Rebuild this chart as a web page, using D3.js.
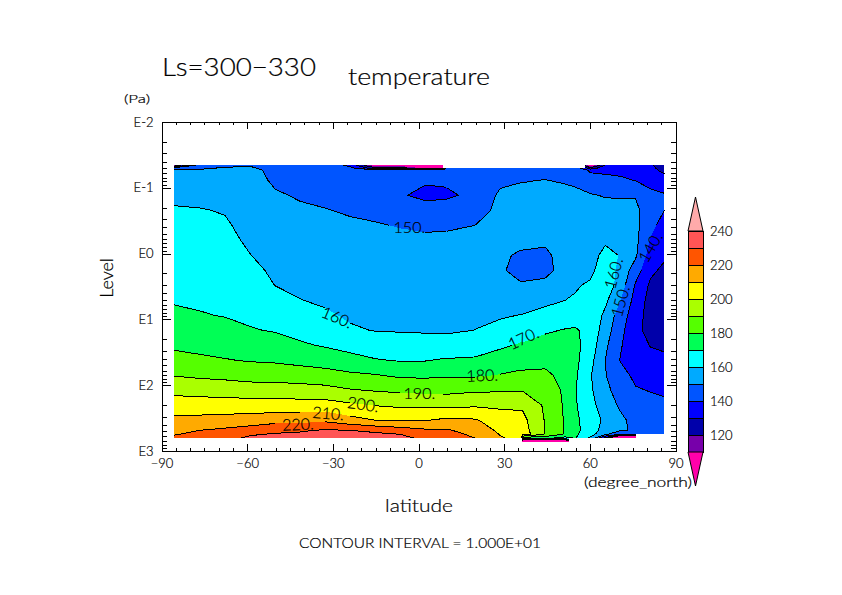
<!DOCTYPE html>
<html>
<head>
<meta charset="utf-8">
<script src="https://cdn.jsdelivr.net/npm/d3@7"></script>
<style>
body { margin: 0; background: #fff; }
text { font-family: "Lato", "DejaVu Sans", sans-serif; font-weight: 300; fill: #000; stroke: #000; stroke-width: 0.2px; }
</style>
</head>
<body>
<script>
// grid: latitude (degrees north), level (log10 Pa)
const lats = [-85.6, -76.5, -67.7, -59, -50.2, -41.5, -32.7, -23.9, -15.2, -6.4, 2.4, 8.7, 9.8, 19.9, 28.6, 35.7, 36.4, 44.4, 51.4, 54.9, 60.2, 65.4, 70.7, 76, 81.2, 86.1];
const levels = [-1.342, -1.296, -1.266, -1.114, -0.886, -0.658, -0.43, -0.202, 0.026, 0.254, 0.482, 0.71, 0.938, 1.166, 1.394, 1.622, 1.85, 2.077, 2.305, 2.533, 2.685, 2.746, 2.807, 2.868];

// temperature, one list per latitude
const temperature = [
  [110, 148, 151, 153.8, 158.2, 160.8, 162.2, 163.6, 165, 166.4, 167.9, 169.3, 171.6, 175, 178.4, 183.3, 189.6, 197.4, 204.8, 212.1, 217.4, 219.5, 221.6, 223],
  [146, 149, 151, 153.1, 157.3, 160.5, 161.9, 163.3, 164.6, 166, 167.4, 168.8, 170.5, 174, 177.4, 181.7, 188.3, 196.5, 204.5, 212.9, 220, 222, 224, 226],
  [148, 151, 151.5, 153, 156.2, 159.4, 161.1, 162.5, 163.9, 165.4, 166.8, 168.2, 169.6, 172.8, 176.5, 180.5, 187.4, 195.9, 204.5, 213.8, 221.7, 224.5, 227.2, 229.3],
  [149.5, 151, 152, 152.5, 154, 155.5, 157, 158.5, 160.2, 162.3, 164.2, 166.3, 168.3, 170.6, 175.1, 179.4, 186, 195, 204.1, 214.5, 224.4, 228.9, 232, 234],
  [147, 147.5, 148, 149, 150.7, 152.2, 153.8, 155.3, 156.8, 158.4, 159.9, 163, 166.2, 169.4, 173.9, 178.7, 185.9, 194.5, 204, 216.7, 227, 231, 233, 235],
  [146, 146.5, 147, 147.5, 149.4, 150.9, 152.5, 154, 155.6, 157.1, 158.6, 160.2, 163.7, 167.2, 171.2, 177.2, 185, 194.1, 204.2, 216.6, 229.2, 231, 232.5, 234],
  [145, 145.5, 146, 146.5, 148.3, 150.3, 151.7, 153.2, 154.6, 156, 157.5, 158.9, 161.1, 165.1, 169.2, 175.7, 183.8, 193.2, 204.1, 218, 230.7, 232.5, 234, 235],
  [138, 143, 145, 145.5, 147, 149.2, 151.1, 152.3, 153.6, 155, 156.3, 157.6, 158.9, 161, 166.7, 173.3, 181.8, 190.7, 201.7, 213.3, 230, 231.5, 233, 234],
  [105, 125, 146, 146.5, 147.6, 148.7, 150.4, 151.7, 153, 154.4, 155.7, 157, 158.4, 159.7, 164.6, 170.7, 180.6, 189.4, 199.7, 210, 227.5, 232, 234, 235],
  [105, 128, 145, 143, 141, 145, 149.7, 151.2, 152.6, 154, 155.4, 156.7, 158.1, 159.5, 163.5, 169.4, 178.4, 188.3, 198.3, 209.6, 224.3, 230, 232, 233],
  [95, 108, 146, 141.2, 137.5, 144.5, 149, 151.1, 152.5, 153.8, 155.2, 156.5, 157.9, 159.3, 163, 169.6, 178.2, 187.7, 197.9, 209.6, 221.4, 224.5, 228.5, 230],
  [95, 108, 146, 141.5, 138, 145, 149.2, 151.2, 152.5, 153.7, 155, 156.3, 157.6, 158.7, 164.3, 170.8, 178.9, 187.2, 197.7, 211.6, 221, 223.5, 226.5, 228],
  [146, 145.5, 145.5, 141.7, 138.2, 145.2, 149.2, 151.2, 152.5, 153.7, 155, 156.3, 157.6, 158.7, 164.3, 170.8, 178.9, 187.2, 197.7, 211.6, 221, 223.5, 226.5, 228],
  [146, 146, 145.5, 144, 142.5, 145.5, 150, 151.4, 152.9, 154.3, 155.8, 157.2, 158.7, 160.1, 165.6, 171.3, 178.9, 188.7, 198.7, 211, 216, 218, 220, 222],
  [146.5, 147, 147, 148, 151.7, 152.8, 153, 153, 151, 150.6, 153, 155, 158.8, 163.4, 168.5, 174.3, 180.5, 189, 198.4, 204.5, 208, 209.5, 211, 212],
  [147, 147.5, 148, 149.8, 151, 152, 152.5, 151.5, 149.2, 148.5, 150.5, 155.8, 160.3, 165.7, 171, 176.2, 182, 189.5, 198.4, 203, 204.5, 206, 207, 208],
  [147, 147.5, 148, 149.8, 151, 152, 152.5, 151.5, 149.2, 148.5, 150.5, 155.8, 160.3, 165.7, 171, 176.2, 182, 189.5, 198.4, 203, 204.5, 206, 172, 20],
  [147, 148, 148.5, 150.1, 151, 152, 152, 151, 148.8, 148.2, 151.6, 157.6, 163.3, 168.9, 173.3, 177.4, 182, 186.5, 188.5, 189.3, 189.3, 189.3, 172, 20],
  [148, 148.5, 149, 149.5, 151.5, 153.5, 155, 154, 152.5, 152.5, 156.5, 160, 165.5, 170.5, 172, 175, 177, 178, 178.5, 179, 179.2, 179, 165, 20],
  [149, 149.2, 149, 149, 151.2, 153.5, 155, 156, 156.5, 157.5, 159, 161, 166, 171, 172.5, 172.5, 171.5, 170.5, 171, 172, 172, 171.5, 170.5, 170],
  [100, 125, 138, 146, 150.5, 152, 153.5, 154.5, 156, 157.5, 161.5, 165, 167, 167, 165.5, 163, 160.8, 161.5, 163, 165, 166, 164, 158, 150],
  [130, 137, 138, 143, 149.6, 152, 153.5, 158.5, 163, 166, 166.5, 162, 158, 155, 152, 150, 150.5, 152.4, 155, 158, 155, 152, 125, 100],
  [137, 138, 138.5, 141, 149.5, 152, 153.5, 159.5, 159.5, 157.2, 155.3, 150.3, 144.7, 142.5, 140.7, 139.6, 143.3, 145.9, 148.6, 152, 151, 140, 70, 60],
  [135, 135.5, 136, 139.8, 149.4, 152, 152.5, 152.5, 151.5, 145, 138.9, 136.4, 134.9, 133.4, 135, 136, 138, 140.8, 143.5, 147, 149, 148, 70, 60],
  [131, 132, 132.5, 136, 143, 145, 143, 139.3, 135.6, 132, 128.5, 126.5, 125.5, 126, 129.6, 132.9, 136.3, 139.6, 143, 146, 148, 148, 148, 148],
  [126, 127, 128, 133.5, 141, 140, 136, 134, 131.5, 128, 125, 122, 121, 123, 128, 132.5, 135, 138.5, 142, 145, 147, 147, 147, 147]
];

// where the data stops: top and bottom edges of the field, step by latitude
const ceilingLats = [8.6, 58.4];
const ceilingLevels = [-1.296, -1.296];
const floorLats = [-85.6, 36.1, 52.7, 76, 86.1];
const floorLevels = [2.807, 2.868, 2.807, 2.746, 2.746];

// contour levels and band colours
const thresholds = [0, 110, 120, 130, 140, 150, 160, 170, 180, 190, 200, 210, 220, 230, 240];
const bandColors = ["#ff00aa", "#7700aa", "#0000aa", "#0000ff", "#0055ff", "#00aaff", "#00ffff", "#00ff55", "#55ff00", "#aaff00", "#ffff00", "#ffaa00", "#ff5500", "#ff5555", "#ffaaaa"];
const colorbarTicks = [120, 140, 160, 180, 200, 220, 240];

// contour labels: value, latitude, level, rotation
const contourLabels = [
  ["150.", 150, -3.2, -0.40, 0],
  ["160.", 160, -28.5, 0.968, 23],
  ["170.", 170, 36.7, 1.287, -25],
  ["180.", 180, 22.3, 1.85, -2],
  ["190.", 190, 0.3, 2.123, 0],
  ["200.", 200, -19.4, 2.29, 8],
  ["210.", 210, -31.6, 2.427, 5],
  ["220.", 220, -42.2, 2.594, -3],
  ["160.", 160, 68.3, 0.30, -75],
  ["150.", 150, 70.7, 0.725, -75],
  ["140.", 140, 81.2, -0.096, -60]
];

const xMajor = [-90, -60, -30, 0, 30, 60, 90];
const yMajor = [-2, -1, 0, 1, 2, 3];
const yMajorLabels = ["E-2", "E-1", "E0", "E1", "E2", "E3"];

var width = 842, height = 595;

var svg = d3.select("body").append("svg")
    .attr("width", width)
    .attr("height", height)
    .attr("viewBox", "0 0 842 595")
    .style("display", "block")
    .attr("shape-rendering", "crispEdges");

var x = d3.scaleLinear().domain([-90, 90]).range([161.5, 675.5]);
var y = d3.scaleLinear().domain([-2, 3]).range([122, 451]);

// grid index to pixels, grid may be unevenly spaced
var latOfIndex = d3.scaleLinear().domain(d3.range(lats.length)).range(lats).clamp(true);
var levelOfIndex = d3.scaleLinear().domain(d3.range(levels.length)).range(levels).clamp(true);
var px = function(c) { return x(latOfIndex(c - 0.5)); };
var py = function(c) { return y(levelOfIndex(c - 0.5)); };

var nx = lats.length, ny = levels.length;
var flat = d3.merge(d3.transpose(temperature));

var contours = d3.contours()
    .size([nx, ny])
    .thresholds(thresholds)(flat);

var gridPath = d3.geoPath(d3.geoTransform({
    point: function(a, b) { this.stream.point(px(a), py(b)); }
}));

// filled bands
svg.append("g").selectAll("path")
    .data(contours)
    .enter()
    .append("path")
    .attr("d", gridPath)
    .attr("fill", function(d, i) { return bandColors[i]; });

// contour lines, without the outer edge of the grid and with gaps at the labels
var onEdge = function(p, q) {
    var ax = p[0] - 0.5, ay = p[1] - 0.5, bx = q[0] - 0.5, by = q[1] - 0.5;
    return (ax <= 0 && bx <= 0) || (ax >= nx - 1 && bx >= nx - 1) ||
        (ay <= 0 && by <= 0) || (ay >= ny - 1 && by >= ny - 1);
};

var linePath = function(d) {
    var gaps = contourLabels.filter(function(l) { return l[1] === d.value; });
    var out = "";
    d.coordinates.forEach(function(poly) {
        poly.forEach(function(ring) {
            for (var i = 1; i < ring.length; i++) {
                var p = ring[i - 1], q = ring[i];
                if (onEdge(p, q)) continue;
                var x0 = px(p[0]), y0 = py(p[1]), x1 = px(q[0]), y1 = py(q[1]);
                var inGap = gaps.some(function(l) {
                    return Math.hypot((x0 + x1) / 2 - x(l[2]), (y0 + y1) / 2 - y(l[3])) < 17;
                });
                if (inGap) continue;
                out += "M" + x0 + "," + y0 + "L" + x1 + "," + y1;
            }
        });
    });
    return out;
};

svg.append("g").selectAll("path")
    .data(contours.filter(function(d) { return d.value > 110 && d.value < 240; }))
    .enter()
    .append("path")
    .attr("d", linePath)
    .attr("fill", "none")
    .attr("stroke", "#000")
    .attr("stroke-width", 1);

// white out what lies past the edges of the data
svg.append("path")
    .attr("d", d3.area()
        .x(function(d) { return x(d[0]); })
        .y0(function(d) { return y(-1.4); })
        .y1(function(d) { return y(d[1]); })(d3.zip(ceilingLats, ceilingLevels)))
    .attr("fill", "#fff");

svg.append("path")
    .attr("d", d3.area()
        .curve(d3.curveStepAfter)
        .x(function(d) { return x(d[0]); })
        .y0(function(d) { return y(2.9); })
        .y1(function(d) { return y(d[1]); })(d3.zip(floorLats, floorLevels)))
    .attr("fill", "#fff");

// contour labels
svg.append("g").selectAll("text")
    .data(contourLabels)
    .enter()
    .append("text")
    .attr("text-anchor", "middle")
    .attr("dy", "0.36em")
    .attr("font-size", 16)
    .attr("transform", function(d) {
        return "translate(" + x(d[2]) + "," + y(d[3]) + ") rotate(" + d[4] + ")";
    })
    .text(function(d) { return d[0]; });

// axes, ticks point inward
var xMinor = d3.range(-90, 91, 5);
var yMinor = d3.merge(d3.range(-2, 3).map(function(e) {
    return d3.range(2, 10).map(function(k) { return e + Math.log10(k); });
}));

var drawAxis = function(axis, tx, ty, values, size, fmt) {
    var g = svg.append("g")
        .attr("transform", "translate(" + tx + "," + ty + ")")
        .call(axis.tickValues(values).tickSizeInner(size).tickSizeOuter(0).tickPadding(fmt ? 8 : 0)
            .tickFormat(fmt || ""));
    g.selectAll("text").attr("font-size", 13).style("font-family", null);
    g.attr("font-family", null);
    return g;
};

drawAxis(d3.axisBottom(x), 0, y(3), xMinor, -3);
drawAxis(d3.axisTop(x), 0, y(-2), xMinor, -3);
drawAxis(d3.axisLeft(y), x(-90), 0, yMinor, -5);
drawAxis(d3.axisRight(y), x(90), 0, yMinor, -5);
drawAxis(d3.axisBottom(x), 0, y(3), xMajor, -7, function(d) { return d < 0 ? "\u2212" + (-d) : d; });
drawAxis(d3.axisTop(x), 0, y(-2), xMajor, -7);
drawAxis(d3.axisLeft(y), x(-90), 0, yMajor, -9, function(d) { return yMajorLabels[yMajor.indexOf(d)]; });
drawAxis(d3.axisRight(y), x(90), 0, yMajor, -9);

// colorbar
var cbY = d3.scaleLinear().domain([110, 240]).range([452, 231]);
var cbLeft = 688, cbRight = 703;

svg.append("g").selectAll("rect")
    .data(d3.range(110, 240, 10))
    .enter()
    .append("rect")
    .attr("x", cbLeft)
    .attr("width", cbRight - cbLeft)
    .attr("y", function(d) { return cbY(d + 10); })
    .attr("height", function(d) { return cbY(d) - cbY(d + 10); })
    .attr("fill", function(d) { return bandColors[thresholds.indexOf(d)]; })
    .attr("stroke", "#000");

var cbLine = d3.line();
svg.append("path")
    .attr("d", cbLine([[cbLeft, cbY(240)], [(cbLeft + cbRight) / 2, cbY(260)], [cbRight, cbY(240)]]) + "Z")
    .attr("fill", bandColors[14])
    .attr("stroke", "#000")
    .attr("shape-rendering", "auto");
svg.append("path")
    .attr("d", cbLine([[cbLeft, cbY(110)], [(cbLeft + cbRight) / 2, cbY(90)], [cbRight, cbY(110)]]) + "Z")
    .attr("fill", bandColors[0])
    .attr("stroke", "#000")
    .attr("shape-rendering", "auto");

svg.append("g").selectAll("text")
    .data(colorbarTicks)
    .enter()
    .append("text")
    .attr("x", 710)
    .attr("y", function(d) { return cbY(d); })
    .attr("dy", "0.36em")
    .attr("font-size", 13)
    .text(function(d) { return d; });

// titles and captions
var label = function(str, lx, ly, size, len) {
    return svg.append("text")
        .attr("x", lx)
        .attr("y", ly)
        .attr("font-size", size)
        .attr("textLength", len)
        .attr("lengthAdjust", "spacingAndGlyphs")
        .text(str);
};

label("Ls=300\u2212330", 162, 76, 25, 154);
label("temperature", 348, 85, 23, 142);
label("(Pa)", 124, 103, 12, 26);
label("latitude", 385, 512, 18, 68);
label("(degree_north)", 584, 487, 13, 108);
label("CONTOUR INTERVAL = 1.000E+01", 299, 548, 13.5, 242);

svg.append("text")
    .attr("transform", "translate(113,278) rotate(-90)")
    .attr("text-anchor", "middle")
    .attr("font-size", 18)
    .text("Level");
</script>
</body>
</html>
